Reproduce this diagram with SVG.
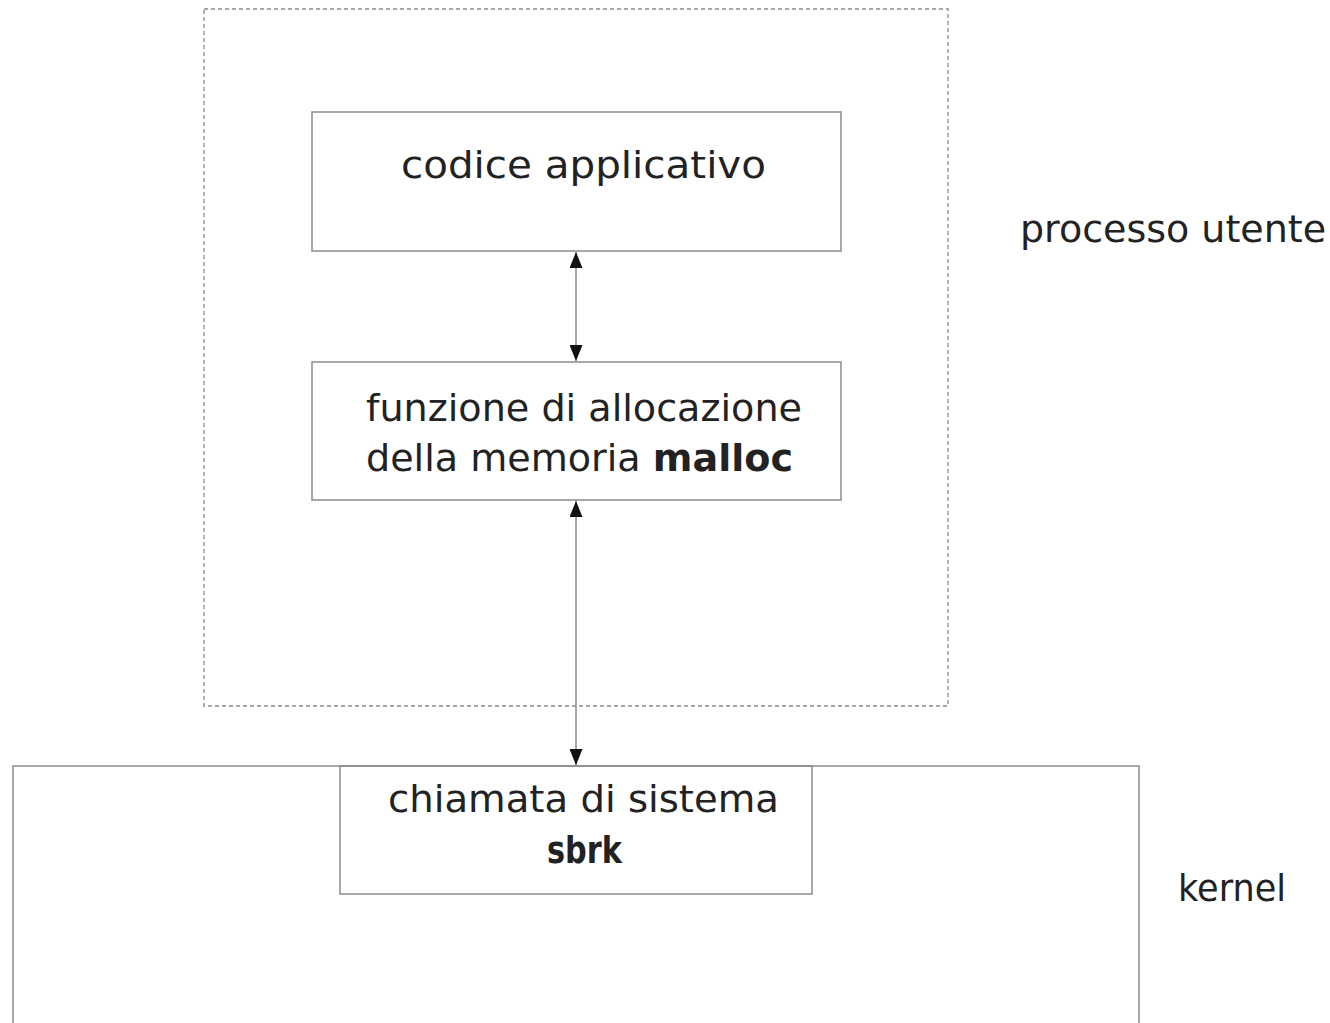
<svg xmlns="http://www.w3.org/2000/svg" width="1330" height="1023" viewBox="0 0 1330 1023">
<style>
.box{fill:none;stroke:#8a8a8a;stroke-width:1.5}
.dash{fill:none;stroke:#8a8a8a;stroke-width:1.3;stroke-dasharray:4 3}
.t{font-family:"DejaVu Sans","Liberation Sans",sans-serif;font-size:38px;fill:#222}
.b{font-weight:bold}
.conn{stroke:#8a8a8a;stroke-width:1.5;fill:none}
</style>
<defs>
<marker id="ah" viewBox="0 0 16 13" refX="16" refY="6.5" markerWidth="16" markerHeight="13" markerUnits="userSpaceOnUse" orient="auto-start-reverse">
<path d="M0,0 L16,6.5 L0,13 Z" fill="#111"/>
</marker>
</defs>
<rect width="1330" height="1023" fill="#fff"/>
<g id="processo">
<rect class="dash" x="204" y="9" width="744" height="697"/>
<text class="t" x="1020" y="242" textLength="306" lengthAdjust="spacingAndGlyphs">processo utente</text>
</g>
<g id="kernel">
<path class="box" d="M13,1030 V766 H1139 V1030"/>
<text class="t" x="1178" y="901" textLength="108" lengthAdjust="spacingAndGlyphs">kernel</text>
</g>
<g id="codice">
<rect class="box" x="312" y="112" width="529" height="139"/>
<text class="t" x="401" y="178" textLength="365" lengthAdjust="spacingAndGlyphs">codice applicativo</text>
</g>
<g id="malloc">
<rect class="box" x="312" y="362" width="529" height="138"/>
<text class="t" x="366" y="421" textLength="436" lengthAdjust="spacingAndGlyphs">funzione di allocazione</text>
<text class="t" x="366" y="471" textLength="427" lengthAdjust="spacingAndGlyphs">della memoria <tspan class="b">malloc</tspan></text>
</g>
<g id="sbrk">
<rect class="box" x="340" y="766" width="472" height="128"/>
<text class="t" x="388" y="812" textLength="391" lengthAdjust="spacingAndGlyphs">chiamata di sistema</text>
<text class="t b" x="547" y="863" textLength="75" lengthAdjust="spacingAndGlyphs">sbrk</text>
</g>
<g id="connectors">
<line class="conn" x1="576" y1="252" x2="576" y2="361" marker-start="url(#ah)" marker-end="url(#ah)"/>
<line class="conn" x1="576" y1="501" x2="576" y2="765" marker-start="url(#ah)" marker-end="url(#ah)"/>
</g>
</svg>
